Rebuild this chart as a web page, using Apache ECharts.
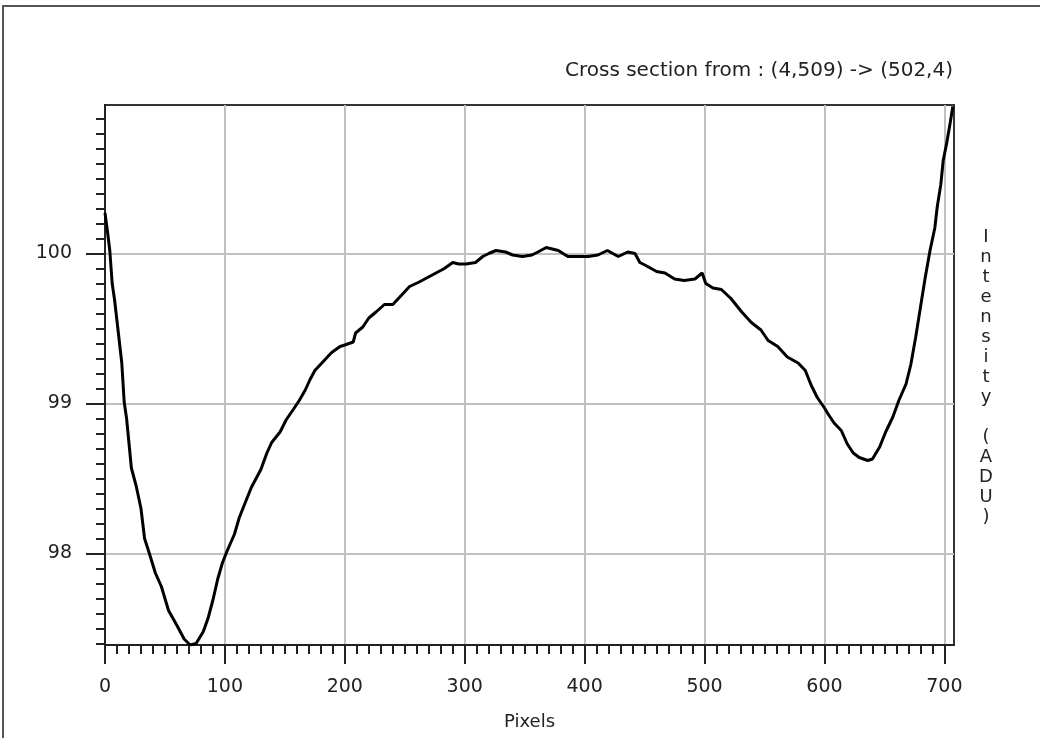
<!DOCTYPE html>
<html>
<head>
<meta charset="utf-8">
<script src="https://cdn.jsdelivr.net/npm/echarts@6/dist/echarts.min.js"></script>
<style>
html, body { margin: 0; padding: 0; background: #fff; }
#main { width: 1040px; height: 738px; }
</style>
</head>
<body>
<div id="main"></div>
<script>
// cross section profile
var pixels = [0, 2, 4, 6, 8, 11, 14, 16, 18, 22, 26, 30, 33, 37, 42, 47, 53, 60, 66, 71, 76, 82, 86, 90, 94, 98,
    102, 108, 112, 118, 122, 126, 130, 135, 139, 146, 151, 157, 162, 167, 171, 175, 182, 189, 196, 200,
    207, 209, 215, 220, 226, 233, 240, 247, 254, 262, 269, 276, 283, 290, 295, 301, 309, 315, 320, 326,
    334, 340, 348, 356, 361, 368, 378, 386, 394, 403, 411, 419, 428, 436, 442, 446, 451, 460, 467, 475,
    483, 492, 498, 501, 507, 514, 522, 531, 539, 547, 553, 561, 569, 578, 584, 589, 594, 600, 603, 608,
    614, 619, 624, 629, 636, 640, 646, 651, 657, 662, 668, 672, 676, 680, 684, 688, 692, 694, 697, 699,
    702, 705, 707];
var intensity = [100.27, 100.15, 100.02, 99.80, 99.69, 99.48, 99.27, 99.01, 98.90, 98.57, 98.45, 98.30, 98.10,
    98.00, 97.87, 97.78, 97.62, 97.52, 97.43, 97.39, 97.40, 97.48, 97.57, 97.69, 97.83, 97.94,
    98.02, 98.13, 98.24, 98.36, 98.44, 98.50, 98.56, 98.67, 98.74, 98.81, 98.89, 98.96, 99.02, 99.09,
    99.16, 99.22, 99.28, 99.34, 99.38, 99.39, 99.41, 99.47, 99.51, 99.57, 99.61, 99.66, 99.66, 99.72,
    99.78, 99.81, 99.84, 99.87, 99.90, 99.94, 99.93, 99.93, 99.94, 99.98, 100.00, 100.02, 100.01, 99.99,
    99.98, 99.99, 100.01, 100.04, 100.02, 99.98, 99.98, 99.98, 99.99, 100.02, 99.98, 100.01, 100.00,
    99.94, 99.92, 99.88, 99.87, 99.83, 99.82, 99.83, 99.87, 99.80, 99.77, 99.76, 99.70, 99.61, 99.54,
    99.49, 99.42, 99.38, 99.31, 99.27, 99.22, 99.12, 99.04, 98.97, 98.93, 98.87, 98.82, 98.73, 98.67,
    98.64, 98.62, 98.63, 98.71, 98.81, 98.91, 99.02, 99.13, 99.26, 99.44, 99.64, 99.84, 100.02, 100.17,
    100.31, 100.46, 100.62, 100.74, 100.88, 100.98];

var xMajorTicks = [0, 100, 200, 300, 400, 500, 600, 700];
var yMajorTicks = [98, 99, 100];
var xRange = [0, 708];
var yRange = [97.39, 100.99];

// minor ticks: every 10 pixels / every 0.1 ADU
var xMinorTicks = [];
for (var i = 10; i <= 700; i += 10) xMinorTicks.push(i);
var yMinorTicks = [];
for (var j = 974; j <= 1009; j++) yMinorTicks.push(j / 10);

var profile = pixels.map(function (p, k) { return [p, intensity[k]]; });

var font = 'DejaVu Sans, sans-serif';
var ink = '#222';

var chart = echarts.init(document.getElementById('main'));

var option = {
    animation: false,
    backgroundColor: '#fff',
    title: {
        text: 'Cross section from : (4,509) -> (502,4)',
        right: 82,
        top: 56,
        textStyle: { fontSize: 20, fontWeight: 'normal', color: ink, fontFamily: font }
    },
    graphic: [
        {
            type: 'rect',
            shape: { x: 3, y: 6, width: 1200, height: 900 },
            style: { fill: null, stroke: '#555', lineWidth: 2 }
        },
        {
            type: 'text',
            x: 986,
            y: 227,
            style: {
                text: 'I\nn\nt\ne\nn\ns\ni\nt\ny\n \n(\nA\nD\nU\n)',
                font: '18px ' + font,
                fill: ink,
                align: 'center',
                lineHeight: 20
            }
        }
    ],
    grid: {
        left: 105, right: 86, top: 105, bottom: 93,
        show: true, borderColor: '#333', borderWidth: 2
    },
    xAxis: [
        {
            type: 'value', position: 'bottom',
            min: xRange[0], max: xRange[1],
            name: 'Pixels', nameLocation: 'middle', nameGap: 68,
            nameTextStyle: { fontSize: 18, color: ink, fontFamily: font },
            axisLine: { lineStyle: { color: ink, width: 2 } },
            axisTick: { customValues: xMajorTicks, length: 19, lineStyle: { color: ink, width: 2 } },
            axisLabel: { customValues: xMajorTicks, margin: 33, fontSize: 19, color: ink, fontFamily: font },
            splitLine: { show: true, lineStyle: { color: '#c0c0c0', width: 2 } }
        },
        {
            type: 'value', position: 'bottom',
            min: xRange[0], max: xRange[1],
            axisLine: { show: false },
            axisTick: { customValues: xMinorTicks, length: 9, lineStyle: { color: ink, width: 2 } },
            axisLabel: { show: false },
            splitLine: { show: false }
        }
    ],
    yAxis: [
        {
            type: 'value', position: 'left',
            min: yRange[0], max: yRange[1],
            axisLine: { show: true, lineStyle: { color: ink, width: 2 } },
            axisTick: { show: true, customValues: yMinorTicks, length: 9, lineStyle: { color: ink, width: 2 } },
            axisLabel: { show: false },
            splitLine: { show: false }
        },
        {
            type: 'value', position: 'left',
            min: yRange[0], max: yRange[1],
            axisLine: { show: true, lineStyle: { color: ink, width: 2 } },
            axisTick: { show: true, customValues: yMajorTicks, length: 19, lineStyle: { color: ink, width: 2 } },
            axisLabel: { customValues: yMajorTicks, margin: 33, fontSize: 19, color: ink, fontFamily: font },
            splitLine: { show: true, lineStyle: { color: '#c0c0c0', width: 2 } }
        }
    ],
    series: [{
        name: 'Intensity',
        type: 'line',
        xAxisIndex: 0,
        yAxisIndex: 0,
        showSymbol: false,
        data: profile,
        lineStyle: { color: '#000', width: 3 }
    }]
};

chart.setOption(option);
</script>
</body>
</html>
